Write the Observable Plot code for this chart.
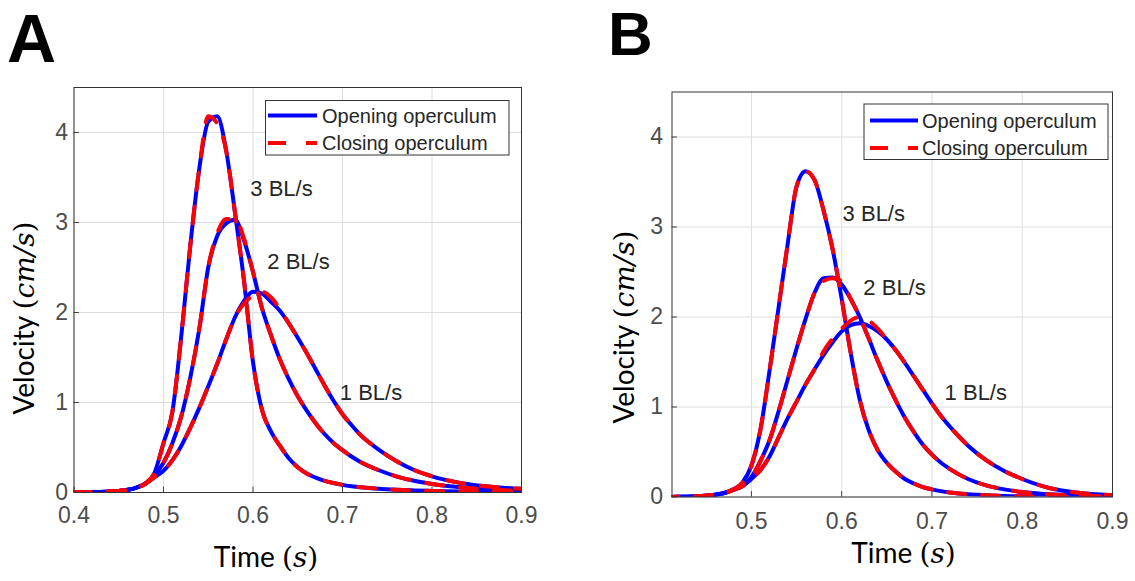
<!DOCTYPE html>
<html><head><meta charset="utf-8">
<script src="https://cdn.jsdelivr.net/npm/d3@7"></script>
<script src="https://cdn.jsdelivr.net/npm/@observablehq/plot@0.6"></script>
<style>
html,body{margin:0;padding:0;background:#fff;}
#root{position:relative;width:1135px;height:581px;overflow:hidden;background:#fff;}
#root svg{position:absolute;top:0;}
</style></head><body><div id="root"></div>
<script>
// ---------- data ----------
const time = [0.40,0.42,0.44,0.45,0.46,0.47,0.48,0.49,0.50,0.51,0.52,0.53,0.54,0.55,0.56,0.57,0.58,0.59,0.60,0.61,0.62,0.63,0.64,0.65,0.66,0.67,0.68,0.69,0.70,0.71,0.72,0.74,0.76,0.78,0.80,0.83,0.86,0.90];

// Panel A
const A_open_3  = [0,0.003,0.01,0.018,0.03,0.055,0.1,0.22,0.55,0.9,1.75,2.75,3.6,4.12,4.18,3.8,3.1,2.35,1.45,0.92,0.68,0.52,0.38,0.28,0.21,0.165,0.13,0.105,0.085,0.07,0.058,0.042,0.031,0.023,0.017,0.011,0.007,0.004];
const A_close_3 = [0,0.003,0.01,0.018,0.03,0.055,0.1,0.22,0.55,0.9,1.75,2.75,3.6,4.18,4.1,3.8,3.1,2.35,1.45,0.92,0.68,0.52,0.38,0.28,0.21,0.165,0.13,0.105,0.085,0.07,0.058,0.042,0.031,0.023,0.017,0.011,0.007,0.004];
const A_open_2  = [0,0.003,0.01,0.018,0.03,0.055,0.1,0.19,0.33,0.55,0.85,1.28,1.82,2.5,2.85,2.99,3.03,2.8,2.45,2.05,1.75,1.48,1.26,1.07,0.91,0.77,0.65,0.55,0.47,0.4,0.34,0.25,0.18,0.13,0.095,0.06,0.035,0.018];
const A_close_2 = [0,0.003,0.01,0.018,0.03,0.055,0.1,0.19,0.33,0.55,0.85,1.28,1.82,2.5,2.88,3.04,3.04,2.82,2.45,2.05,1.75,1.48,1.26,1.07,0.91,0.77,0.65,0.55,0.47,0.4,0.34,0.25,0.18,0.13,0.095,0.06,0.035,0.018];
const A_open_1  = [0,0.003,0.01,0.018,0.03,0.055,0.1,0.17,0.24,0.36,0.52,0.72,0.94,1.18,1.43,1.7,1.95,2.13,2.23,2.21,2.12,2.02,1.88,1.72,1.55,1.37,1.19,1.02,0.87,0.75,0.64,0.48,0.35,0.25,0.18,0.11,0.07,0.04];
const A_close_1 = [0,0.003,0.01,0.018,0.03,0.055,0.1,0.17,0.24,0.36,0.52,0.72,0.94,1.18,1.43,1.7,1.95,2.1,2.19,2.23,2.17,2.04,1.88,1.72,1.55,1.37,1.19,1.02,0.87,0.75,0.64,0.48,0.35,0.25,0.18,0.11,0.07,0.04];

// Panel B
const B_open_3  = [0,0.002,0.008,0.015,0.025,0.045,0.085,0.16,0.35,0.75,1.4,2.1,2.8,3.45,3.62,3.52,3.18,2.75,2.2,1.6,1.08,0.74,0.52,0.38,0.28,0.2,0.15,0.11,0.085,0.065,0.05,0.03,0.02,0.012,0.008,0.005,0.003,0.002];
const B_close_3 = [0,0.002,0.008,0.015,0.025,0.045,0.085,0.16,0.35,0.75,1.4,2.1,2.8,3.45,3.62,3.52,3.18,2.75,2.2,1.6,1.08,0.74,0.52,0.38,0.28,0.2,0.15,0.11,0.085,0.065,0.05,0.03,0.02,0.012,0.008,0.005,0.003,0.002];
const B_open_2  = [0,0.002,0.008,0.015,0.025,0.045,0.08,0.13,0.22,0.4,0.63,0.95,1.3,1.65,1.98,2.27,2.43,2.44,2.36,2.2,2.0,1.76,1.51,1.28,1.07,0.88,0.72,0.58,0.47,0.38,0.31,0.2,0.13,0.085,0.055,0.03,0.017,0.008];
const B_close_2 = [0,0.002,0.008,0.015,0.025,0.045,0.08,0.13,0.22,0.4,0.63,0.95,1.3,1.65,1.98,2.27,2.4,2.43,2.4,2.2,2.0,1.76,1.51,1.28,1.07,0.88,0.72,0.58,0.47,0.38,0.31,0.2,0.13,0.085,0.055,0.03,0.017,0.008];
const B_open_1  = [0,0.002,0.008,0.015,0.025,0.045,0.08,0.12,0.2,0.3,0.45,0.66,0.87,1.06,1.25,1.42,1.58,1.72,1.84,1.91,1.93,1.9,1.84,1.75,1.63,1.49,1.34,1.19,1.04,0.9,0.78,0.57,0.41,0.29,0.2,0.1,0.05,0.02];
const B_close_1 = [0,0.002,0.008,0.015,0.025,0.045,0.08,0.12,0.2,0.3,0.45,0.66,0.87,1.06,1.25,1.42,1.62,1.76,1.87,1.96,2.0,1.96,1.87,1.75,1.63,1.49,1.34,1.19,1.04,0.9,0.78,0.57,0.41,0.29,0.2,0.1,0.05,0.02];

const speeds = ["1 BL/s", "2 BL/s", "3 BL/s"];
const legendNames = ["Opening operculum", "Closing operculum"];
const yTicks = [0, 1, 2, 3, 4];
const xTicksA = [0.4, 0.5, 0.6, 0.7, 0.8, 0.9];
const xTicksB = [0.5, 0.6, 0.7, 0.8, 0.9];

// label anchor positions (data units)
const labelT_A = [0.697, 0.616, 0.597];
const labelV_A = [1.11, 2.56, 3.37];
const labelT_B = [0.714, 0.624, 0.601];
const labelV_B = [1.16, 2.32, 3.15];

// ---------- helpers ----------
const BLUE = "#0000ff", RED = "#ff0000";
const SANS = "'Liberation Sans', Arial, Helvetica, sans-serif";
const LBL = "Lato, 'Open Sans', sans-serif";
const SERIF = "'DejaVu Serif', 'Liberation Serif', serif";
const LW = 4;

function rows(seriesList) {
  const out = [];
  seriesList.forEach(([name, vals]) => time.forEach((t, i) => out.push({t, v: vals[i], s: name})));
  return out;
}
function labelRows(ts, vs) { return speeds.map((s, i) => ({t: ts[i], v: vs[i], label: s})); }

function panel(cfg) {
  const svg = Plot.plot({
    width: 560, height: 581,
    marginLeft: cfg.ml, marginRight: cfg.mr, marginTop: cfg.mt, marginBottom: cfg.mb,
    x: {domain: cfg.xDomain, label: null},
    y: {domain: [0, 4.5], label: null},
    style: {fontFamily: SANS, background: "transparent", overflow: "visible", color: "#262626"},
    marks: [
      Plot.gridX(cfg.xTicks, {stroke: "#dedede", strokeOpacity: 1, strokeWidth: 1}),
      Plot.gridY(yTicks, {stroke: "#dedede", strokeOpacity: 1, strokeWidth: 1}),
      Plot.ruleX(cfg.xTicks, {y1: 0, y2: 0.06, stroke: "#404040"}),
      Plot.ruleY(yTicks, {x1: cfg.xDomain[0], x2: cfg.xDomain[0] + 0.006, stroke: "#404040"}),
      Plot.axisX(cfg.xTicks, {tickSize: 0, tickPadding: cfg.xPad, fontSize: 23, color: "#4d4d4d", label: null, tickFormat: d => d.toFixed(1)}),
      Plot.axisY(yTicks, {tickSize: 0, tickPadding: cfg.yPad, fontSize: 23, color: "#4d4d4d", label: null, tickFormat: d => String(d)}),
      Plot.line(rows(cfg.open), {x: "t", y: "v", z: "s", stroke: BLUE, strokeWidth: LW, curve: "monotone-x", clip: true}),
      Plot.line(rows(cfg.close), {x: "t", y: "v", z: "s", stroke: RED, strokeWidth: LW, strokeDasharray: "17,17", curve: "monotone-x", clip: true}),
      Plot.text(cfg.labels, {x: "t", y: "v", text: "label", textAnchor: "start", fontSize: 22, fill: "#262626"}),
      Plot.frame({stroke: "#333333", strokeWidth: 1})
    ]
  });
  svg.style.left = cfg.left + "px";
  const g = d3.select(svg).append("g").attr("text-anchor", "start");
  // legend
  const L = cfg.legend;
  g.append("rect").attr("x", L.x0).attr("y", L.y0).attr("width", L.x1 - L.x0).attr("height", L.y1 - L.y0)
    .attr("fill", "#fff").attr("stroke", "#333").attr("stroke-width", 1);
  [[BLUE, null, L.r1], [RED, "18,20", L.r2]].forEach(([c, dash, y], i) => {
    const ln = g.append("line").attr("x1", L.lx0).attr("x2", L.lx1).attr("y1", y).attr("y2", y)
      .attr("stroke", c).attr("stroke-width", LW);
    if (dash) ln.attr("stroke-dasharray", dash);
    g.append("text").attr("x", L.tx).attr("y", y).attr("dy", "0.35em").attr("text-anchor", "start")
      .attr("font-family", SANS).attr("font-size", 20).attr("fill", "#262626").text(legendNames[i]);
  });
  // y-axis title
  const yt = g.append("text").attr("transform", `translate(${cfg.yt[0]},${cfg.yt[1]}) rotate(-90)`)
    .attr("text-anchor", "middle").attr("font-size", 28).attr("fill", "#000");
  yt.append("tspan").attr("font-family", LBL).text("Velocity ");
  yt.append("tspan").attr("font-family", SERIF).text("(");
  yt.append("tspan").attr("font-family", SERIF).attr("font-style", "italic").text("cm/s");
  yt.append("tspan").attr("font-family", SERIF).text(")");
  // x-axis title
  const xt = g.append("text").attr("x", cfg.xt[0]).attr("y", cfg.xt[1])
    .attr("text-anchor", "middle").attr("font-size", 28).attr("fill", "#000");
  xt.append("tspan").attr("font-family", LBL).text("Time ");
  xt.append("tspan").attr("font-family", SERIF).text("(");
  xt.append("tspan").attr("font-family", SERIF).attr("font-style", "italic").text("s");
  xt.append("tspan").attr("font-family", SERIF).text(")");
  // panel letter
  g.append("text").attr("x", cfg.letter[0]).attr("y", cfg.letter[1]).attr("text-anchor", "start")
    .attr("font-family", SANS).attr("font-weight", "bold").attr("font-size", cfg.letter[3])
    .attr("fill", "#000").text(cfg.letter[2]);
  document.getElementById("root").appendChild(svg);
}

panel({
  left: 0, ml: 73.5, mr: 39, mt: 87, mb: 89, xDomain: [0.4, 0.9], xTicks: xTicksA, xPad: 14, yPad: 6,
  open: [[speeds[2], A_open_3], [speeds[1], A_open_2], [speeds[0], A_open_1]],
  close: [[speeds[2], A_close_3], [speeds[1], A_close_2], [speeds[0], A_close_1]],
  labels: labelRows(labelT_A, labelV_A),
  legend: {x0: 265.5, x1: 509, y0: 100.5, y1: 155, lx0: 268, lx1: 317, tx: 322, r1: 115.5, r2: 143},
  yt: [34, 318], xt: [266, 567], letter: [7, 62, "A", 68]
});
panel({
  left: 575, ml: 96.5, mr: 23, mt: 91.5, mb: 84.5, xDomain: [0.412, 0.9], xTicks: xTicksB, xPad: 16, yPad: 9,
  open: [[speeds[2], B_open_3], [speeds[1], B_open_2], [speeds[0], B_open_1]],
  close: [[speeds[2], B_close_3], [speeds[1], B_close_2], [speeds[0], B_close_1]],
  labels: labelRows(labelT_B, labelV_B),
  legend: {x0: 289, x1: 533, y0: 104, y1: 159.5, lx0: 295, lx1: 343, tx: 347, r1: 120.5, r2: 148},
  yt: [59, 327], xt: [328.5, 563], letter: [33, 55, "B", 62]
});
</script></body></html>
